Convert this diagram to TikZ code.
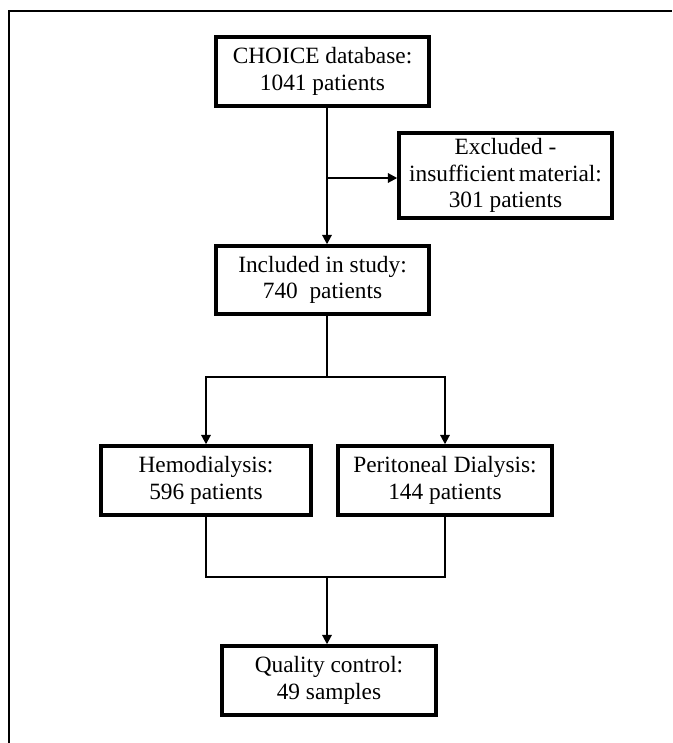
\documentclass[tikz,border=0pt]{standalone}
\usepackage{fontspec}
\setmainfont{Liberation Serif}
\usetikzlibrary{arrows.meta}

\begin{document}
\begin{tikzpicture}[x=0.75pt,y=-0.75pt,
		box/.style={draw, line width=2.6pt, align=center, inner sep=0pt,
			font=\fontsize{17.5}{20}\selectfont},
		link/.style={line width=1.5pt},
		arrow/.style={link, -{Triangle[length=7pt,width=7pt]}}]
				\useasboundingbox (0,0) rectangle (672,743);
				\draw[line width=1.1pt] (9,743) -- (9,11) -- (672,11);
				\node[box, minimum width=213*0.75pt, minimum height=69*0.75pt] (choice) at (322.5,71.5) {CHOICE database:\\1041 patients};
				\node[box, minimum width=213*0.75pt, minimum height=85*0.75pt] (excl) at (505.5,175.5) {Excluded -\\insufficient\,material:\\301 patients};
				\node[box, minimum width=213*0.75pt, minimum height=68*0.75pt] (incl) at (322.5,280) {Included in study:\\740\ \ patients};
				\node[box, minimum width=210*0.75pt, minimum height=69*0.75pt] (hemo) at (206,480.5) {Hemodialysis:\\596 patients};
				\node[box, minimum width=214*0.75pt, minimum height=69*0.75pt] (perit) at (445,480.5) {Peritoneal Dialysis:\\144 patients};
				\node[box, minimum width=214*0.75pt, minimum height=69*0.75pt] (qc) at (329,680.5) {Quality control:\\49 samples};
				\coordinate (branch) at (327,178);
				\coordinate (split) at (327,377);
				\coordinate (merge) at (327,577);
				\draw[arrow] (choice.south -| branch) -- (incl.north -| branch);
				\draw[arrow] (branch) -- (excl.west |- branch);
				\draw[link] (incl.south -| split) -- (split);
				\draw[arrow] (split) -| (hemo.north);
				\draw[arrow] (split) -| (perit.north);
				\draw[link] (hemo.south) |- (merge);
				\draw[link] (perit.south) |- (merge);
				\draw[arrow] (merge) -- (qc.north -| merge);
			\end{tikzpicture}
\end{document}
